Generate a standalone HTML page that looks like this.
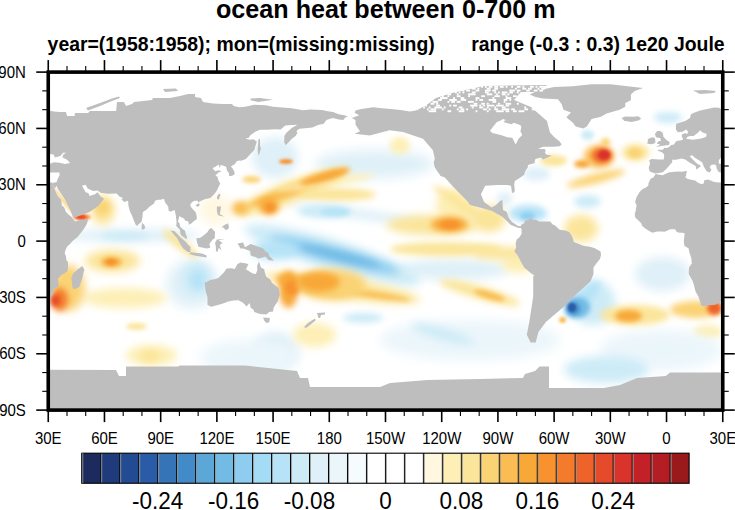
<!DOCTYPE html>
<html><head><meta charset="utf-8"><style>
html,body{margin:0;padding:0;background:#fff;}
svg{display:block;}
text{font-family:"Liberation Sans",sans-serif;fill:#000;}
.tk{font-size:15px;}
.cbl{font-size:22.5px;}
.ttl{font-size:25.15px;font-weight:bold;}
.sub{font-size:19.42px;font-weight:bold;}
</style></head><body>
<svg width="735" height="510" viewBox="0 0 735 510">
<defs>
<clipPath id="pc"><rect x="48.25" y="72.1" width="674.5" height="338.0"/></clipPath>
<filter id="bl" x="-50%" y="-50%" width="200%" height="200%"><feGaussianBlur stdDeviation="4"/></filter>
<filter id="bl2" x="-50%" y="-50%" width="200%" height="200%"><feGaussianBlur stdDeviation="2"/></filter>
</defs>
<rect width="735" height="510" fill="#fff"/>
<g clip-path="url(#pc)">
<filter id="b1" x="-100%" y="-100%" width="300%" height="300%"><feGaussianBlur stdDeviation="1"/></filter><filter id="b1_2" x="-100%" y="-100%" width="300%" height="300%"><feGaussianBlur stdDeviation="1.2"/></filter><filter id="b1_5" x="-100%" y="-100%" width="300%" height="300%"><feGaussianBlur stdDeviation="1.5"/></filter><filter id="b2" x="-100%" y="-100%" width="300%" height="300%"><feGaussianBlur stdDeviation="2"/></filter><filter id="b2_5" x="-100%" y="-100%" width="300%" height="300%"><feGaussianBlur stdDeviation="2.5"/></filter><filter id="b3" x="-100%" y="-100%" width="300%" height="300%"><feGaussianBlur stdDeviation="3"/></filter><filter id="b3_5" x="-100%" y="-100%" width="300%" height="300%"><feGaussianBlur stdDeviation="3.5"/></filter><filter id="b4" x="-100%" y="-100%" width="300%" height="300%"><feGaussianBlur stdDeviation="4"/></filter><filter id="b5" x="-100%" y="-100%" width="300%" height="300%"><feGaussianBlur stdDeviation="5"/></filter><filter id="b6" x="-100%" y="-100%" width="300%" height="300%"><feGaussianBlur stdDeviation="6"/></filter><ellipse cx="132.5" cy="235.5" rx="67.5" ry="6.5" transform="rotate(0.0 132.5 235.5)" fill="#dff0f8" filter="url(#b5)"/><ellipse cx="125.0" cy="236.0" rx="25.0" ry="4.0" transform="rotate(0.0 125.0 236.0)" fill="#cdebf7" filter="url(#b3)"/><ellipse cx="192.5" cy="284.0" rx="25.5" ry="24.0" transform="rotate(0.0 192.5 284.0)" fill="#dff0f8" filter="url(#b6)"/><ellipse cx="275.0" cy="157.5" rx="23.0" ry="20.5" transform="rotate(0.0 275.0 157.5)" fill="#dff0f8" filter="url(#b5)"/><ellipse cx="374.5" cy="164.0" rx="59.5" ry="14.0" transform="rotate(0.0 374.5 164.0)" fill="#dff0f8" filter="url(#b6)"/><ellipse cx="453.0" cy="269.5" rx="56.0" ry="10.5" transform="rotate(0.0 453.0 269.5)" fill="#dff0f8" filter="url(#b5)"/><ellipse cx="275.0" cy="350.5" rx="23.0" ry="18.5" transform="rotate(0.0 275.0 350.5)" fill="#dff0f8" filter="url(#b5)"/><ellipse cx="662.5" cy="274.0" rx="27.5" ry="17.0" transform="rotate(0.0 662.5 274.0)" fill="#dff0f8" filter="url(#b5)"/><ellipse cx="536.5" cy="174.0" rx="13.5" ry="7.0" transform="rotate(0.0 536.5 174.0)" fill="#dff0f8" filter="url(#b3)"/><ellipse cx="124.5" cy="298.0" rx="42.5" ry="10.0" transform="rotate(0.0 124.5 298.0)" fill="#fdefb5" filter="url(#b4)"/><ellipse cx="216.0" cy="210.0" rx="16.0" ry="15.0" transform="rotate(0.0 216.0 210.0)" fill="#fff7e0" filter="url(#b5)"/><ellipse cx="400.0" cy="145.5" rx="10.0" ry="8.5" transform="rotate(0.0 400.0 145.5)" fill="#fdefb5" filter="url(#b3)"/><ellipse cx="457.0" cy="205.0" rx="21.0" ry="17.0" transform="rotate(0.0 457.0 205.0)" fill="#fdefb5" filter="url(#b4)"/><ellipse cx="519.0" cy="264.5" rx="17.0" ry="8.5" transform="rotate(0.0 519.0 264.5)" fill="#fdefb5" filter="url(#b4)"/><ellipse cx="314.5" cy="335.0" rx="21.5" ry="12.0" transform="rotate(0.0 314.5 335.0)" fill="#fdefb5" filter="url(#b4)"/><ellipse cx="707.5" cy="332.0" rx="14.5" ry="7.0" transform="rotate(0.0 707.5 332.0)" fill="#fdefb5" filter="url(#b3)"/><ellipse cx="506.0" cy="253.5" rx="34.0" ry="6.5" transform="rotate(0.0 506.0 253.5)" fill="#fbe59a" filter="url(#b4)"/><ellipse cx="250.0" cy="357.5" rx="50.0" ry="17.5" transform="rotate(0.0 250.0 357.5)" fill="#ebf6fb" filter="url(#b6)"/><ellipse cx="470.0" cy="340.0" rx="90.0" ry="20.0" transform="rotate(0.0 470.0 340.0)" fill="#ebf6fb" filter="url(#b6)"/><ellipse cx="661.0" cy="350.0" rx="61.0" ry="20.0" transform="rotate(0.0 661.0 350.0)" fill="#ebf6fb" filter="url(#b6)"/><ellipse cx="64.5" cy="202.0" rx="18.9" ry="1.5" transform="rotate(52.5 64.5 202.0)" fill="#fad375" filter="url(#b1)"/><ellipse cx="82.0" cy="217.0" rx="9.0" ry="3.0" transform="rotate(0.0 82.0 217.0)" fill="#f47b2b" filter="url(#b1_5)"/><ellipse cx="81.0" cy="217.0" rx="5.0" ry="2.0" transform="rotate(0.0 81.0 217.0)" fill="#e54b2a" filter="url(#b1)"/><ellipse cx="103.0" cy="210.0" rx="12.0" ry="15.0" transform="rotate(0.0 103.0 210.0)" fill="#fbe59a" filter="url(#b4)"/><ellipse cx="102.5" cy="207.5" rx="7.5" ry="7.5" transform="rotate(0.0 102.5 207.5)" fill="#fad375" filter="url(#b3)"/><ellipse cx="112.5" cy="261.0" rx="27.5" ry="11.0" transform="rotate(0.0 112.5 261.0)" fill="#fbe59a" filter="url(#b4)"/><ellipse cx="111.5" cy="262.0" rx="10.5" ry="5.0" transform="rotate(0.0 111.5 262.0)" fill="#f8a837" filter="url(#b2_5)"/><ellipse cx="111.0" cy="262.0" rx="5.0" ry="3.0" transform="rotate(0.0 111.0 262.0)" fill="#f7922f" filter="url(#b1_5)"/><ellipse cx="68.0" cy="288.0" rx="17.0" ry="23.0" transform="rotate(0.0 68.0 288.0)" fill="#fad375" filter="url(#b4)"/><ellipse cx="59.5" cy="299.5" rx="8.5" ry="11.5" transform="rotate(0.0 59.5 299.5)" fill="#f47b2b" filter="url(#b3)"/><ellipse cx="55.5" cy="300.5" rx="4.5" ry="5.5" transform="rotate(0.0 55.5 300.5)" fill="#e54b2a" filter="url(#b2)"/><ellipse cx="180.5" cy="244.0" rx="22.4" ry="5.0" transform="rotate(38.7 180.5 244.0)" fill="#fbe59a" filter="url(#b3)"/><ellipse cx="197.0" cy="278.5" rx="15.0" ry="16.5" transform="rotate(0.0 197.0 278.5)" fill="#cdebf7" filter="url(#b4)"/><ellipse cx="197.5" cy="280.0" rx="7.5" ry="10.0" transform="rotate(0.0 197.5 280.0)" fill="#b6e3f7" filter="url(#b3)"/><ellipse cx="151.5" cy="355.5" rx="25.5" ry="10.5" transform="rotate(0.0 151.5 355.5)" fill="#fdefb5" filter="url(#b4)"/><ellipse cx="150.0" cy="356.0" rx="10.0" ry="6.0" transform="rotate(0.0 150.0 356.0)" fill="#fbe59a" filter="url(#b3)"/><ellipse cx="136.5" cy="326.5" rx="10.5" ry="3.5" transform="rotate(0.0 136.5 326.5)" fill="#fbe59a" filter="url(#b2)"/><ellipse cx="292.0" cy="191.5" rx="60.0" ry="11.0" transform="rotate(-21.0 292.0 191.5)" fill="#fbe59a" filter="url(#b3_5)"/><ellipse cx="296.5" cy="189.0" rx="51.4" ry="5.5" transform="rotate(-19.3 296.5 189.0)" fill="#f9bd53" filter="url(#b2_5)"/><ellipse cx="325.0" cy="182.5" rx="50.6" ry="4.0" transform="rotate(-8.5 325.0 182.5)" fill="#fdefb5" filter="url(#b3)"/><ellipse cx="269.0" cy="206.5" rx="10.0" ry="8.5" transform="rotate(0.0 269.0 206.5)" fill="#f8a837" filter="url(#b3)"/><ellipse cx="270.0" cy="207.5" rx="5.0" ry="4.5" transform="rotate(0.0 270.0 207.5)" fill="#f7922f" filter="url(#b2)"/><ellipse cx="240.5" cy="208.0" rx="8.5" ry="7.0" transform="rotate(0.0 240.5 208.0)" fill="#f9bd53" filter="url(#b3)"/><ellipse cx="286.0" cy="161.5" rx="7.0" ry="2.5" transform="rotate(0.0 286.0 161.5)" fill="#f7922f" filter="url(#b1_5)"/><ellipse cx="251.5" cy="179.5" rx="9.5" ry="3.5" transform="rotate(0.0 251.5 179.5)" fill="#fad375" filter="url(#b2)"/><ellipse cx="332.5" cy="255.0" rx="91.6" ry="15.0" transform="rotate(17.1 332.5 255.0)" fill="#cdebf7" filter="url(#b5)"/><ellipse cx="335.0" cy="255.0" rx="67.2" ry="8.0" transform="rotate(14.7 335.0 255.0)" fill="#8ecdf0" filter="url(#b4)"/><ellipse cx="365.0" cy="215.0" rx="75.7" ry="5.0" transform="rotate(7.6 365.0 215.0)" fill="#dff0f8" filter="url(#b4)"/><ellipse cx="340.0" cy="256.0" rx="41.2" ry="4.0" transform="rotate(14.0 340.0 256.0)" fill="#72bbe5" filter="url(#b3)"/><ellipse cx="275.0" cy="250.0" rx="23.0" ry="10.0" transform="rotate(0.0 275.0 250.0)" fill="#b6e3f7" filter="url(#b4)"/><ellipse cx="342.5" cy="288.0" rx="78.4" ry="10.0" transform="rotate(8.8 342.5 288.0)" fill="#fbe59a" filter="url(#b4)"/><ellipse cx="310.5" cy="285.0" rx="35.2" ry="7.0" transform="rotate(11.5 310.5 285.0)" fill="#f8a837" filter="url(#b3)"/><ellipse cx="375.0" cy="295.0" rx="35.4" ry="3.0" transform="rotate(8.1 375.0 295.0)" fill="#f9bd53" filter="url(#b2_5)"/><ellipse cx="288.5" cy="289.5" rx="9.5" ry="18.5" transform="rotate(0.0 288.5 289.5)" fill="#f8a837" filter="url(#b3)"/><ellipse cx="292.5" cy="287.5" rx="7.5" ry="7.5" transform="rotate(0.0 292.5 287.5)" fill="#f7922f" filter="url(#b2)"/><ellipse cx="325.0" cy="176.5" rx="26.1" ry="4.5" transform="rotate(-16.7 325.0 176.5)" fill="#f8a837" filter="url(#b2_5)"/><ellipse cx="337.0" cy="194.5" rx="39.0" ry="6.5" transform="rotate(0.0 337.0 194.5)" fill="#fbe59a" filter="url(#b3)"/><ellipse cx="464.0" cy="206.5" rx="37.2" ry="4.5" transform="rotate(33.5 464.0 206.5)" fill="#fbe59a" filter="url(#b3)"/><ellipse cx="504.5" cy="199.0" rx="7.5" ry="7.0" transform="rotate(0.0 504.5 199.0)" fill="#dff0f8" filter="url(#b3)"/><ellipse cx="433.0" cy="225.0" rx="47.0" ry="10.0" transform="rotate(0.0 433.0 225.0)" fill="#fbe59a" filter="url(#b4)"/><ellipse cx="449.5" cy="224.5" rx="18.5" ry="7.5" transform="rotate(0.0 449.5 224.5)" fill="#f8a837" filter="url(#b3)"/><ellipse cx="450.0" cy="224.5" rx="10.0" ry="4.5" transform="rotate(0.0 450.0 224.5)" fill="#f7922f" filter="url(#b2)"/><ellipse cx="325.0" cy="211.5" rx="27.0" ry="6.5" transform="rotate(0.0 325.0 211.5)" fill="#cdebf7" filter="url(#b3)"/><ellipse cx="335.0" cy="212.0" rx="15.0" ry="4.0" transform="rotate(0.0 335.0 212.0)" fill="#b6e3f7" filter="url(#b2)"/><ellipse cx="446.0" cy="249.0" rx="56.0" ry="7.0" transform="rotate(0.0 446.0 249.0)" fill="#fbe59a" filter="url(#b3)"/><ellipse cx="332.0" cy="284.5" rx="34.0" ry="15.5" transform="rotate(0.0 332.0 284.5)" fill="#fad375" filter="url(#b4)"/><ellipse cx="319.0" cy="282.0" rx="21.0" ry="10.0" transform="rotate(0.0 319.0 282.0)" fill="#f8a837" filter="url(#b3)"/><ellipse cx="479.5" cy="292.5" rx="42.1" ry="6.5" transform="rotate(15.9 479.5 292.5)" fill="#fbe59a" filter="url(#b3_5)"/><ellipse cx="489.5" cy="295.5" rx="16.1" ry="3.5" transform="rotate(16.2 489.5 295.5)" fill="#f9bd53" filter="url(#b2)"/><ellipse cx="363.0" cy="318.0" rx="20.0" ry="5.0" transform="rotate(0.0 363.0 318.0)" fill="#cdebf7" filter="url(#b3)"/><ellipse cx="442.5" cy="334.0" rx="32.8" ry="6.0" transform="rotate(15.9 442.5 334.0)" fill="#cdebf7" filter="url(#b4)"/><ellipse cx="489.0" cy="218.5" rx="17.0" ry="13.5" transform="rotate(0.0 489.0 218.5)" fill="#fbe59a" filter="url(#b4)"/><ellipse cx="599.0" cy="156.5" rx="15.0" ry="11.5" transform="rotate(0.0 599.0 156.5)" fill="#f9bd53" filter="url(#b3)"/><ellipse cx="582.0" cy="164.0" rx="8.0" ry="4.0" transform="rotate(0.0 582.0 164.0)" fill="#f8a837" filter="url(#b2)"/><ellipse cx="605.5" cy="142.5" rx="4.5" ry="4.5" transform="rotate(0.0 605.5 142.5)" fill="#fad375" filter="url(#b2)"/><ellipse cx="602.0" cy="155.5" rx="10.0" ry="7.5" transform="rotate(0.0 602.0 155.5)" fill="#ee6329" filter="url(#b2_5)"/><ellipse cx="604.0" cy="155.0" rx="6.0" ry="5.0" transform="rotate(0.0 604.0 155.0)" fill="#da332b" filter="url(#b1_5)"/><ellipse cx="635.5" cy="152.5" rx="13.5" ry="8.5" transform="rotate(0.0 635.5 152.5)" fill="#fbe59a" filter="url(#b3)"/><ellipse cx="635.0" cy="153.0" rx="7.0" ry="5.0" transform="rotate(0.0 635.0 153.0)" fill="#fad375" filter="url(#b2)"/><ellipse cx="596.0" cy="178.5" rx="30.0" ry="5.0" transform="rotate(-14.5 596.0 178.5)" fill="#fad375" filter="url(#b3)"/><ellipse cx="553.5" cy="160.5" rx="13.5" ry="5.5" transform="rotate(0.0 553.5 160.5)" fill="#fbe59a" filter="url(#b2_5)"/><ellipse cx="528.0" cy="213.5" rx="19.0" ry="8.5" transform="rotate(0.0 528.0 213.5)" fill="#b6e3f7" filter="url(#b3)"/><ellipse cx="527.5" cy="216.0" rx="7.5" ry="4.0" transform="rotate(0.0 527.5 216.0)" fill="#8ecdf0" filter="url(#b2)"/><ellipse cx="581.0" cy="228.5" rx="17.0" ry="13.5" transform="rotate(0.0 581.0 228.5)" fill="#fbe59a" filter="url(#b4)"/><ellipse cx="587.5" cy="201.5" rx="13.5" ry="6.5" transform="rotate(0.0 587.5 201.5)" fill="#cdebf7" filter="url(#b3)"/><ellipse cx="587.5" cy="135.0" rx="6.5" ry="5.0" transform="rotate(0.0 587.5 135.0)" fill="#cdebf7" filter="url(#b2)"/><ellipse cx="668.0" cy="117.5" rx="14.0" ry="5.5" transform="rotate(0.0 668.0 117.5)" fill="#cdebf7" filter="url(#b3)"/><ellipse cx="592.5" cy="302.5" rx="22.5" ry="22.5" transform="rotate(0.0 592.5 302.5)" fill="#cdebf7" filter="url(#b5)"/><ellipse cx="583.0" cy="299.0" rx="24.0" ry="7.0" transform="rotate(-45.0 583.0 299.0)" fill="#b6e3f7" filter="url(#b3)"/><ellipse cx="577.5" cy="307.5" rx="12.5" ry="10.5" transform="rotate(0.0 577.5 307.5)" fill="#72bbe5" filter="url(#b2_5)"/><ellipse cx="573.5" cy="308.5" rx="6.5" ry="6.5" transform="rotate(0.0 573.5 308.5)" fill="#438ac8" filter="url(#b2)"/><ellipse cx="572.0" cy="307.5" rx="4.0" ry="4.5" transform="rotate(0.0 572.0 307.5)" fill="#2a5ba9" filter="url(#b1_2)"/><ellipse cx="562.5" cy="320.0" rx="3.5" ry="3.0" transform="rotate(0.0 562.5 320.0)" fill="#f9bd53" filter="url(#b1_5)"/><ellipse cx="635.0" cy="315.0" rx="35.0" ry="10.0" transform="rotate(0.0 635.0 315.0)" fill="#fbe59a" filter="url(#b3)"/><ellipse cx="628.5" cy="316.0" rx="13.5" ry="6.0" transform="rotate(0.0 628.5 316.0)" fill="#f8a837" filter="url(#b2_5)"/><ellipse cx="696.0" cy="309.5" rx="26.0" ry="8.5" transform="rotate(0.0 696.0 309.5)" fill="#fad375" filter="url(#b3)"/><ellipse cx="714.5" cy="308.0" rx="7.5" ry="7.0" transform="rotate(0.0 714.5 308.0)" fill="#ee6329" filter="url(#b2)"/><ellipse cx="606.5" cy="369.5" rx="42.5" ry="13.5" transform="rotate(0.0 606.5 369.5)" fill="#cdebf7" filter="url(#b5)"/>
<g fill="#bebebe">
<path d="M-19.0,173.9 -11.7,175.2 -6.1,172.6 -2.3,172.0 3.3,171.6 8.2,171.8 10.8,171.1 12.7,171.6 11.7,173.5 11.7,175.4 10.8,177.3 12.7,178.8 15.5,179.5 20.5,180.4 23.9,182.9 27.6,184.2 29.5,182.9 29.5,180.6 33.3,179.5 36.1,180.6 38.9,181.8 43.6,182.5 47.9,182.5 52.6,182.5 53.1,185.0 54.8,189.5 57.6,196.0 61.2,199.8 61.9,205.4 64.2,207.3 66.0,212.0 68.9,214.8 71.7,217.3 73.2,219.3 75.4,221.6 80.1,220.1 83.8,219.9 88.0,218.9 87.6,221.6 86.7,224.2 83.8,228.9 81.0,232.7 77.3,237.3 72.6,241.1 69.8,244.3 67.0,246.7 65.5,249.9 64.7,253.3 65.9,256.1 66.4,260.3 67.9,261.8 68.1,268.3 67.0,272.1 61.4,274.9 58.0,278.7 58.6,283.4 58.6,286.2 53.9,289.0 53.5,290.5 53.1,294.6 51.1,296.1 48.2,299.9 44.5,303.1 40.0,304.9 34.2,304.9 29.5,306.4 26.5,305.3 25.8,302.1 23.9,296.5 21.1,291.8 19.2,284.3 17.9,280.5 14.2,274.0 14.5,267.4 17.3,263.6 16.8,258.0 14.9,252.4 14.2,248.6 9.8,245.8 9.3,241.1 9.8,236.4 10.2,233.6 8.0,232.7 5.2,232.8 2.3,232.1 0.5,229.3 -4.2,229.3 -9.8,231.7 -13.6,231.5 -17.3,231.5 -22.0,232.8 -25.8,230.8 -29.5,228.3 -32.3,226.1 -33.3,223.3 -36.1,220.4 -39.2,217.6 -39.8,213.9 -38.9,211.1 -37.9,205.4 -39.4,201.7 -37.9,197.0 -35.1,192.3 -32.3,189.3 -28.6,187.4 -26.3,185.7 -25.9,182.9 -23.9,178.8 -21.1,177.6 -19.2,174.4Z"/><path d="M655.5,173.9 662.8,175.2 668.4,172.6 672.2,172.0 677.8,171.6 682.7,171.8 685.3,171.1 687.2,171.6 686.2,173.5 686.2,175.4 685.3,177.3 687.2,178.8 690.0,179.5 695.0,180.4 698.4,182.9 702.1,184.2 704.0,182.9 704.0,180.6 707.8,179.5 710.6,180.6 713.4,181.8 718.1,182.5 722.4,182.5 727.1,182.5 727.6,185.0 729.3,189.5 732.1,196.0 735.7,199.8 736.4,205.4 738.7,207.3 740.5,212.0 743.4,214.8 746.2,217.3 747.7,219.3 749.9,221.6 754.6,220.1 758.3,219.9 762.5,218.9 762.1,221.6 761.2,224.2 758.3,228.9 755.5,232.7 751.8,237.3 747.1,241.1 744.3,244.3 741.5,246.7 740.0,249.9 739.2,253.3 740.4,256.1 740.9,260.3 742.4,261.8 742.6,268.3 741.5,272.1 735.9,274.9 732.5,278.7 733.1,283.4 733.1,286.2 728.4,289.0 728.0,290.5 727.6,294.6 725.6,296.1 722.8,299.9 719.0,303.1 714.5,304.9 708.7,304.9 704.0,306.4 701.0,305.3 700.3,302.1 698.4,296.5 695.6,291.8 693.7,284.3 692.4,280.5 688.7,274.0 689.0,267.4 691.8,263.6 691.3,258.0 689.4,252.4 688.7,248.6 684.3,245.8 683.8,241.1 684.3,236.4 684.7,233.6 682.5,232.7 679.7,232.8 676.8,232.1 675.0,229.3 670.3,229.3 664.7,231.7 660.9,231.5 657.2,231.5 652.5,232.8 648.7,230.8 645.0,228.3 642.2,226.1 641.2,223.3 638.4,220.4 635.3,217.6 634.7,213.9 635.6,211.1 636.6,205.4 635.1,201.7 636.6,197.0 639.4,192.3 642.2,189.3 645.9,187.4 648.2,185.7 648.6,182.9 650.6,178.8 653.4,177.6 655.3,174.4Z"/><path d="M82.3,266.0 84.3,269.5 82.0,279.0 79.2,287.0 75.0,289.0 72.6,288.2 71.3,278.0 73.5,273.0 77.6,269.5Z"/><path d="M756.8,266.0 758.8,269.5 756.5,279.0 753.7,287.0 749.5,289.0 747.1,288.2 745.8,278.0 748.0,273.0 752.1,269.5Z"/><path d="M-24.8,171.6 -25.8,167.9 -24.4,163.2 -25.4,160.4 -22.9,159.0 -15.5,159.4 -10.8,159.6 -10.2,154.7 -12.1,152.5 -16.8,150.6 -16.4,149.7 -11.5,149.7 -10.4,147.8 -7.6,148.1 -5.1,146.8 -3.3,145.1 -0.5,144.4 1.0,142.0 2.3,141.0 5.2,140.6 8.2,139.9 8.5,138.8 7.4,136.9 7.4,134.4 10.8,132.9 11.7,134.1 13.6,133.1 13.2,131.2 11.7,129.4 8.0,131.8 3.3,132.2 1.4,129.4 1.4,126.6 1.8,123.7 5.2,122.8 10.8,120.9 15.5,118.1 16.4,114.3 20.1,112.5 25.8,110.6 31.4,109.3 39.8,107.6 44.5,107.8 49.2,110.6 53.9,111.5 59.5,111.9 66.0,112.1 67.0,116.0 73.9,116.0 74.5,116.0 75.0,113.0 88.0,113.0 90.0,111.0 116.1,111.0 117.0,102.0 123.9,102.0 126.0,105.9 132.0,104.0 134.1,102.0 152.0,100.1 153.0,98.0 170.0,98.0 180.0,95.9 188.0,94.1 195.0,94.1 195.0,97.1 200.9,98.0 203.0,102.0 213.1,103.5 222.5,104.0 231.9,104.0 233.7,105.9 239.4,107.2 245.0,106.7 254.3,104.8 265.6,105.3 273.1,106.7 282.5,107.6 291.8,108.3 303.1,110.2 310.6,109.5 321.8,110.0 329.3,111.5 333.0,112.1 338.7,114.2 344.3,115.3 348.0,116.6 345.2,117.5 343.3,120.0 338.7,119.6 333.0,118.1 329.3,119.0 326.5,120.0 323.7,123.7 318.1,125.1 312.4,127.5 304.9,128.2 299.3,128.8 296.5,131.1 297.4,133.1 295.6,135.9 291.8,138.8 289.0,141.8 285.6,145.3 284.3,142.5 284.3,135.9 286.2,133.1 291.8,128.1 297.4,124.7 291.8,125.1 285.3,125.6 280.6,129.4 274.6,129.2 267.5,129.7 260.0,129.7 255.3,131.8 250.6,135.0 248.7,137.8 245.4,138.4 249.7,139.7 253.4,139.3 256.8,141.6 255.3,146.3 254.3,150.0 250.6,153.8 245.9,158.9 241.2,160.7 239.0,160.4 236.7,161.3 235.0,164.1 230.9,166.4 232.8,168.8 234.7,172.6 234.3,174.8 231.9,175.8 229.1,176.3 229.1,173.5 226.8,170.3 226.2,166.9 224.4,166.0 220.6,165.1 219.7,167.9 218.7,164.5 215.0,166.9 212.6,167.9 213.1,168.8 215.0,171.2 218.7,170.3 221.6,171.2 218.4,172.6 215.4,175.4 217.4,176.7 218.7,181.0 220.2,183.5 216.9,190.4 215.0,193.2 210.3,197.9 204.7,199.2 199.1,201.7 198.5,203.0 197.6,200.7 194.4,200.7 192.0,202.2 190.3,204.5 190.6,206.4 193.5,210.1 195.9,212.6 196.8,216.7 196.6,219.5 194.0,221.0 191.6,223.3 188.8,224.8 188.4,221.4 185.0,220.4 184.1,218.6 181.3,217.3 179.4,216.1 177.9,221.4 179.4,223.3 180.3,227.0 183.2,229.5 185.0,230.8 185.6,233.6 187.3,238.3 186.0,238.7 181.8,235.8 180.3,233.6 180.0,229.8 176.2,226.1 176.6,222.3 175.7,214.8 174.7,210.1 171.0,211.4 168.7,211.1 168.2,206.4 165.0,202.2 164.0,198.8 160.7,199.8 157.9,199.8 155.0,200.7 154.1,203.5 149.4,206.7 146.2,209.9 142.9,212.0 142.5,216.7 141.6,221.8 138.6,224.2 137.2,226.1 135.4,224.2 133.5,219.5 131.6,214.8 129.8,211.1 128.4,205.4 128.1,200.7 124.1,202.0 121.3,199.2 123.2,198.3 119.4,196.6 116.6,193.4 107.3,193.8 100.7,192.8 97.5,190.4 93.2,191.0 87.6,188.5 85.7,184.8 82.0,185.7 85.7,192.3 88.5,193.2 89.5,196.0 95.1,194.2 97.5,192.3 100.7,196.6 104.1,198.8 98.8,205.4 95.1,208.2 89.5,212.0 82.0,214.8 76.4,217.1 73.2,217.3 70.7,211.1 65.1,199.8 57.6,188.5 56.7,185.7 54.8,188.5 52.9,184.8 52.9,182.9 56.7,181.9 57.6,179.1 59.5,175.4 59.5,172.6 49.2,172.6 44.5,172.2 42.6,169.7 41.7,166.0 40.8,164.5 37.0,164.7 35.1,166.9 37.0,169.7 35.1,172.6 32.3,171.6 29.5,166.9 27.6,162.2 20.1,157.5 17.7,155.3 15.1,156.0 17.3,158.5 22.0,163.2 26.7,166.0 23.9,167.9 22.0,169.7 21.1,166.0 14.5,162.2 10.8,159.4 7.0,158.5 1.4,159.8 -2.3,159.8 -2.3,162.2 -8.0,168.8 -11.7,172.2 -19.2,173.5Z"/><path d="M649.7,171.6 648.7,167.9 650.1,163.2 649.1,160.4 651.6,159.0 659.0,159.4 663.7,159.6 664.3,154.7 662.4,152.5 657.7,150.6 658.1,149.7 663.0,149.7 664.1,147.8 666.9,148.1 669.4,146.8 671.2,145.1 674.0,144.4 675.5,142.0 676.8,141.0 679.7,140.6 682.7,139.9 683.0,138.8 681.9,136.9 681.9,134.4 685.3,132.9 686.2,134.1 688.1,133.1 687.7,131.2 686.2,129.4 682.5,131.8 677.8,132.2 675.9,129.4 675.9,126.6 676.3,123.7 679.7,122.8 685.3,120.9 690.0,118.1 690.9,114.3 694.6,112.5 700.3,110.6 705.9,109.3 714.3,107.6 719.0,107.8 723.7,110.6 728.4,111.5 734.0,111.9 740.5,112.1 741.5,116.0 748.4,116.0 749.0,116.0 749.5,113.0 762.5,113.0 764.5,111.0 790.6,111.0 791.5,102.0 798.4,102.0 800.5,105.9 806.5,104.0 808.6,102.0 826.5,100.1 827.5,98.0 844.5,98.0 854.5,95.9 862.5,94.1 869.5,94.1 869.5,97.1 875.4,98.0 877.5,102.0 887.6,103.5 897.0,104.0 906.4,104.0 908.2,105.9 913.9,107.2 919.5,106.7 928.8,104.8 940.1,105.3 947.6,106.7 957.0,107.6 966.3,108.3 977.6,110.2 985.1,109.5 996.3,110.0 1003.8,111.5 1007.5,112.1 1013.2,114.2 1018.8,115.3 1022.5,116.6 1019.7,117.5 1017.8,120.0 1013.2,119.6 1007.5,118.1 1003.8,119.0 1001.0,120.0 998.2,123.7 992.5,125.1 986.9,127.5 979.4,128.2 973.8,128.8 971.0,131.1 971.9,133.1 970.1,135.9 966.3,138.8 963.5,141.8 960.1,145.3 958.8,142.5 958.8,135.9 960.7,133.1 966.3,128.1 971.9,124.7 966.3,125.1 959.8,125.6 955.1,129.4 949.1,129.2 942.0,129.7 934.5,129.7 929.8,131.8 925.1,135.0 923.2,137.8 919.9,138.4 924.2,139.7 927.9,139.3 931.3,141.6 929.8,146.3 928.8,150.0 925.1,153.8 920.4,158.9 915.7,160.7 913.5,160.4 911.2,161.3 909.5,164.1 905.4,166.4 907.3,168.8 909.2,172.6 908.8,174.8 906.4,175.8 903.6,176.3 903.6,173.5 901.3,170.3 900.7,166.9 898.9,166.0 895.1,165.1 894.2,167.9 893.2,164.5 889.5,166.9 887.1,167.9 887.6,168.8 889.5,171.2 893.2,170.3 896.1,171.2 892.9,172.6 889.9,175.4 891.9,176.7 893.2,181.0 894.7,183.5 891.4,190.4 889.5,193.2 884.8,197.9 879.2,199.2 873.6,201.7 873.0,203.0 872.1,200.7 868.9,200.7 866.5,202.2 864.8,204.5 865.1,206.4 868.0,210.1 870.4,212.6 871.3,216.7 871.1,219.5 868.5,221.0 866.1,223.3 863.3,224.8 862.9,221.4 859.5,220.4 858.6,218.6 855.8,217.3 853.9,216.1 852.4,221.4 853.9,223.3 854.8,227.0 857.6,229.5 859.5,230.8 860.1,233.6 861.8,238.3 860.5,238.7 856.3,235.8 854.8,233.6 854.5,229.8 850.7,226.1 851.1,222.3 850.2,214.8 849.2,210.1 845.5,211.4 843.2,211.1 842.7,206.4 839.5,202.2 838.5,198.8 835.2,199.8 832.4,199.8 829.5,200.7 828.6,203.5 823.9,206.7 820.7,209.9 817.4,212.0 817.0,216.7 816.1,221.8 813.1,224.2 811.7,226.1 809.9,224.2 808.0,219.5 806.1,214.8 804.3,211.1 802.9,205.4 802.6,200.7 798.6,202.0 795.8,199.2 797.7,198.3 793.9,196.6 791.1,193.4 781.8,193.8 775.2,192.8 772.0,190.4 767.7,191.0 762.1,188.5 760.2,184.8 756.5,185.7 760.2,192.3 763.0,193.2 764.0,196.0 769.6,194.2 772.0,192.3 775.2,196.6 778.6,198.8 773.3,205.4 769.6,208.2 764.0,212.0 756.5,214.8 750.9,217.1 747.7,217.3 745.2,211.1 739.6,199.8 732.1,188.5 731.2,185.7 729.3,188.5 727.4,184.8 727.4,182.9 731.2,181.9 732.1,179.1 734.0,175.4 734.0,172.6 723.7,172.6 719.0,172.2 717.1,169.7 716.2,166.0 715.3,164.5 711.5,164.7 709.6,166.9 711.5,169.7 709.6,172.6 706.8,171.6 704.0,166.9 702.1,162.2 694.6,157.5 692.2,155.3 689.6,156.0 691.8,158.5 696.5,163.2 701.2,166.0 698.4,167.9 696.5,169.7 695.6,166.0 689.0,162.2 685.3,159.4 681.5,158.5 675.9,159.8 672.2,159.8 672.2,162.2 666.5,168.8 662.8,172.2 655.3,173.5Z"/><path d="M-18.6,147.2 -13.6,146.1 -5.5,145.0 -4.8,142.1 -7.4,140.6 -11.0,136.9 -11.7,132.9 -14.1,131.1 -17.3,131.1 -19.6,134.1 -18.5,137.3 -14.0,138.2 -13.6,140.8 -16.4,141.6 -17.7,143.8 -14.1,144.6Z"/><path d="M655.9,147.2 660.9,146.1 669.0,145.0 669.7,142.1 667.1,140.6 663.5,136.9 662.8,132.9 660.4,131.1 657.2,131.1 654.9,134.1 656.0,137.3 660.5,138.2 660.9,140.8 658.1,141.6 656.8,143.8 660.4,144.6Z"/><path d="M-19.2,143.1 -19.2,139.7 -20.1,137.4 -23.3,137.4 -26.7,139.3 -26.7,141.6 -27.3,143.8 -22.9,144.2Z"/><path d="M655.3,143.1 655.3,139.7 654.4,137.4 651.2,137.4 647.8,139.3 647.8,141.6 647.2,143.8 651.6,144.2Z"/><path d="M-50.1,120.9 -52.9,118.1 -49.2,116.4 -41.7,116.8 -36.1,116.2 -33.3,118.7 -36.1,120.4 -43.0,122.0 -47.3,121.3Z"/><path d="M624.4,120.9 621.6,118.1 625.3,116.4 632.8,116.8 638.4,116.2 641.2,118.7 638.4,120.4 631.5,122.0 627.2,121.3Z"/><path d="M18.5,90.5 30.5,90.0 41.5,91.0 39.5,93.0 25.5,94.0Z"/><path d="M693.0,90.5 705.0,90.0 716.0,91.0 714.0,93.0 700.0,94.0Z"/><path d="M86.0,108.0 100.0,103.0 112.0,98.5 119.0,96.5 120.0,98.0 112.0,101.0 100.0,106.0 88.0,110.5Z"/><path d="M760.5,108.0 774.5,103.0 786.5,98.5 793.5,96.5 794.5,98.0 786.5,101.0 774.5,106.0 762.5,110.5Z"/><path d="M163.0,89.0 176.0,88.5 178.0,91.0 165.0,92.0Z"/><path d="M837.5,89.0 850.5,88.5 852.5,91.0 839.5,92.0Z"/><path d="M250.6,100.3 258.1,102.1 273.1,99.7 260.0,98.0 250.6,98.4Z"/><path d="M925.1,100.3 932.6,102.1 947.6,99.7 934.5,98.0 925.1,98.4Z"/><path d="M141.6,228.9 141.9,222.7 144.4,225.1 145.3,228.0 142.9,229.8Z"/><path d="M816.1,228.9 816.4,222.7 818.9,225.1 819.8,228.0 817.4,229.8Z"/><path d="M195.5,205.4 198.1,203.5 200.0,204.1 198.1,206.9Z"/><path d="M870.0,205.4 872.6,203.5 874.5,204.1 872.6,206.9Z"/><path d="M217.2,198.8 216.9,197.0 218.7,193.8 220.6,194.2 218.7,199.8Z"/><path d="M891.7,198.8 891.4,197.0 893.2,193.8 895.1,194.2 893.2,199.8Z"/><path d="M258.1,154.7 257.7,149.1 258.5,139.3 260.0,139.1 260.0,145.3 260.9,149.1 259.0,154.7Z"/><path d="M932.6,154.7 932.2,149.1 933.0,139.3 934.5,139.1 934.5,145.3 935.4,149.1 933.5,154.7Z"/><path d="M216.9,206.4 221.0,206.4 220.6,210.1 219.7,213.9 224.4,216.7 218.0,215.2 216.9,211.1Z"/><path d="M891.4,206.4 895.5,206.4 895.1,210.1 894.2,213.9 898.9,216.7 892.5,215.2 891.4,211.1Z"/><path d="M220.6,228.0 224.4,225.1 228.1,223.3 229.1,228.0 226.2,230.2 222.5,227.0Z"/><path d="M895.1,228.0 898.9,225.1 902.6,223.3 903.6,228.0 900.7,230.2 897.0,227.0Z"/><path d="M196.3,238.3 197.2,243.0 198.5,246.7 206.6,248.6 210.3,247.7 209.4,243.9 212.6,239.6 214.8,238.3 215.0,231.7 211.3,228.0 209.4,228.9 207.5,232.1 204.7,234.5 200.0,237.9Z"/><path d="M870.8,238.3 871.7,243.0 873.0,246.7 881.1,248.6 884.8,247.7 883.9,243.9 887.1,239.6 889.3,238.3 889.5,231.7 885.8,228.0 883.9,228.9 882.0,232.1 879.2,234.5 874.5,237.9Z"/><path d="M170.6,230.6 174.7,231.3 180.3,237.3 186.0,242.0 187.8,244.5 190.6,247.1 190.3,252.0 187.8,252.0 183.2,248.6 180.3,243.9 177.2,238.3 173.8,234.5Z"/><path d="M845.1,230.6 849.2,231.3 854.8,237.3 860.5,242.0 862.3,244.5 865.1,247.1 864.8,252.0 862.3,252.0 857.6,248.6 854.8,243.9 851.7,238.3 848.3,234.5Z"/><path d="M189.1,253.9 190.6,252.2 195.0,252.7 200.0,253.3 203.2,254.1 206.6,255.6 206.6,257.4 200.0,256.5 194.4,255.6 190.3,254.2Z"/><path d="M863.6,253.9 865.1,252.2 869.5,252.7 874.5,253.3 877.7,254.1 881.1,255.6 881.1,257.4 874.5,256.5 868.9,255.6 864.8,254.2Z"/><path d="M215.9,251.4 215.9,246.7 215.0,243.0 216.9,239.6 225.3,238.7 218.7,240.2 222.5,243.0 219.7,244.9 221.6,250.5 218.7,247.7 217.8,251.4Z"/><path d="M890.4,251.4 890.4,246.7 889.5,243.0 891.4,239.6 899.8,238.7 893.2,240.2 897.0,243.0 894.2,244.9 896.1,250.5 893.2,247.7 892.3,251.4Z"/><path d="M237.5,243.5 243.1,242.6 245.0,247.3 250.6,244.1 256.2,246.0 262.8,248.2 265.6,251.4 268.4,252.9 269.3,256.1 274.0,260.8 268.4,259.9 265.6,256.5 260.9,258.0 258.1,258.4 255.8,257.1 252.5,256.3 250.6,255.2 250.2,251.1 243.1,248.4 240.3,248.6 239.4,246.4Z"/><path d="M912.0,243.5 917.6,242.6 919.5,247.3 925.1,244.1 930.7,246.0 937.3,248.2 940.1,251.4 942.9,252.9 943.8,256.1 948.5,260.8 942.9,259.9 940.1,256.5 935.4,258.0 932.6,258.4 930.3,257.1 927.0,256.3 925.1,255.2 924.7,251.1 917.6,248.4 914.8,248.6 913.9,246.4Z"/><path d="M204.7,282.4 205.6,290.9 207.5,297.4 207.5,304.9 211.3,306.8 214.1,305.9 219.7,304.6 224.4,303.1 228.1,301.6 233.7,300.4 238.4,300.2 243.1,302.7 246.5,306.4 249.7,303.1 250.6,307.8 253.4,309.6 254.3,312.1 260.0,314.0 266.2,314.5 269.3,312.1 273.1,311.5 273.6,307.8 275.9,304.0 277.8,301.2 279.8,294.6 278.7,288.0 275.0,285.2 272.1,283.0 270.3,279.6 266.2,276.8 264.7,272.1 264.3,269.3 260.9,267.4 259.0,261.4 257.2,265.5 257.3,270.2 255.8,274.0 252.8,273.6 248.7,271.0 245.9,269.3 248.4,264.2 246.5,263.6 240.5,262.5 237.5,264.0 234.7,268.9 231.5,268.3 226.6,268.5 223.4,273.0 221.0,275.3 218.7,277.7 214.6,279.2 210.7,279.8 206.6,282.0Z"/><path d="M879.2,282.4 880.1,290.9 882.0,297.4 882.0,304.9 885.8,306.8 888.6,305.9 894.2,304.6 898.9,303.1 902.6,301.6 908.2,300.4 912.9,300.2 917.6,302.7 921.0,306.4 924.2,303.1 925.1,307.8 927.9,309.6 928.8,312.1 934.5,314.0 940.7,314.5 943.8,312.1 947.6,311.5 948.1,307.8 950.4,304.0 952.3,301.2 954.3,294.6 953.2,288.0 949.5,285.2 946.6,283.0 944.8,279.6 940.7,276.8 939.2,272.1 938.8,269.3 935.4,267.4 933.5,261.4 931.7,265.5 931.8,270.2 930.3,274.0 927.3,273.6 923.2,271.0 920.4,269.3 922.9,264.2 921.0,263.6 915.0,262.5 912.0,264.0 909.2,268.9 906.0,268.3 901.1,268.5 897.9,273.0 895.5,275.3 893.2,277.7 889.1,279.2 885.2,279.8 881.1,282.0Z"/><path d="M263.0,317.5 269.9,317.9 269.3,322.2 266.5,323.0 264.1,320.3Z"/><path d="M937.5,317.5 944.4,317.9 943.8,322.2 941.0,323.0 938.6,320.3Z"/><path d="M317.0,313.0 325.0,312.5 325.0,314.5 321.0,315.0 320.0,318.0 318.5,318.0Z"/><path d="M991.5,313.0 999.5,312.5 999.5,314.5 995.5,315.0 994.5,318.0 993.0,318.0Z"/><path d="M314.5,318.8 316.0,320.0 310.0,325.0 306.0,328.0 304.0,327.0 308.0,323.0Z"/><path d="M989.0,318.8 990.5,320.0 984.5,325.0 980.5,328.0 978.5,327.0 982.5,323.0Z"/><path d="M-322.7,117.9 -315.2,115.3 -319.9,112.8 -319.0,110.6 -313.4,109.1 -301.2,107.2 -292.7,108.2 -283.4,109.1 -272.1,110.2 -264.6,111.5 -259.0,110.6 -249.7,109.7 -240.3,110.6 -229.0,111.5 -221.6,112.8 -210.3,112.8 -197.2,114.0 -187.8,112.8 -184.1,107.8 -176.6,111.5 -168.2,110.6 -161.6,114.3 -166.3,116.6 -169.1,116.2 -172.8,120.0 -177.9,122.2 -184.5,130.7 -182.2,133.1 -173.8,135.0 -167.2,137.3 -162.2,137.8 -158.8,144.4 -156.0,138.8 -152.2,135.0 -154.1,131.2 -153.2,127.5 -154.1,124.1 -146.6,124.7 -139.1,126.6 -138.2,130.3 -135.4,131.2 -129.7,128.8 -128.8,127.9 -124.1,133.1 -120.4,136.9 -114.8,141.6 -112.9,144.4 -114.8,146.3 -120.4,146.8 -131.6,146.8 -136.3,149.1 -129.7,149.1 -128.8,151.0 -129.7,152.8 -127.9,154.7 -122.2,155.7 -120.4,154.7 -131.6,159.4 -133.5,157.5 -139.1,159.0 -140.0,162.2 -139.1,162.8 -146.6,165.1 -146.6,166.9 -149.4,171.6 -150.4,174.8 -153.7,177.3 -159.7,181.0 -160.3,184.8 -159.7,190.4 -160.3,192.3 -162.5,193.0 -163.5,185.7 -167.2,185.1 -177.5,185.1 -189.3,185.8 -193.6,194.3 -190.4,202.0 -183.0,207.4 -178.5,205.0 -174.5,201.0 -172.1,200.0 -171.5,209.9 -167.8,211.7 -165.7,218.0 -162.5,221.9 -156.5,226.1 -152.2,226.5 -153.2,228.0 -156.0,228.0 -163.5,225.1 -172.1,216.7 -183.0,210.7 -193.6,207.7 -204.5,205.0 -207.5,200.7 -214.1,194.2 -221.6,186.6 -227.4,180.1 -230.0,177.3 -233.9,176.1 -237.5,170.7 -239.9,166.9 -240.8,162.2 -239.7,158.7 -241.6,150.2 -251.5,138.8 -271.6,132.0 -284.9,130.3 -304.7,135.4 -319.7,133.7 -314.5,131.2 -319.0,124.7 -319.0,120.0Z"/><path d="M351.8,117.9 359.3,115.3 354.6,112.8 355.5,110.6 361.1,109.1 373.3,107.2 381.8,108.2 391.1,109.1 402.4,110.2 409.9,111.5 415.5,110.6 424.8,109.7 434.2,110.6 445.5,111.5 452.9,112.8 464.2,112.8 477.3,114.0 486.7,112.8 490.4,107.8 497.9,111.5 506.3,110.6 512.9,114.3 508.2,116.6 505.4,116.2 501.7,120.0 496.6,122.2 490.0,130.7 492.3,133.1 500.7,135.0 507.3,137.3 512.3,137.8 515.7,144.4 518.5,138.8 522.3,135.0 520.4,131.2 521.3,127.5 520.4,124.1 527.9,124.7 535.4,126.6 536.3,130.3 539.1,131.2 544.8,128.8 545.7,127.9 550.4,133.1 554.1,136.9 559.7,141.6 561.6,144.4 559.7,146.3 554.1,146.8 542.9,146.8 538.2,149.1 544.8,149.1 545.7,151.0 544.8,152.8 546.6,154.7 552.3,155.7 554.1,154.7 542.9,159.4 541.0,157.5 535.4,159.0 534.5,162.2 535.4,162.8 527.9,165.1 527.9,166.9 525.1,171.6 524.1,174.8 520.8,177.3 514.8,181.0 514.2,184.8 514.8,190.4 514.2,192.3 512.0,193.0 511.0,185.7 507.3,185.1 497.0,185.1 485.2,185.8 480.9,194.3 484.1,202.0 491.5,207.4 496.0,205.0 500.0,201.0 502.4,200.0 503.0,209.9 506.7,211.7 508.8,218.0 512.0,221.9 518.0,226.1 522.3,226.5 521.3,228.0 518.5,228.0 511.0,225.1 502.4,216.7 491.5,210.7 480.9,207.7 470.0,205.0 467.0,200.7 460.4,194.2 452.9,186.6 447.1,180.1 444.5,177.3 440.6,176.1 437.0,170.7 434.6,166.9 433.7,162.2 434.8,158.7 432.9,150.2 423.0,138.8 402.9,132.0 389.6,130.3 369.8,135.4 354.8,133.7 360.0,131.2 355.5,124.7 355.5,120.0Z"/><path d="M-169.1,120.0 -158.8,121.9 -163.5,124.3 -171.0,121.9Z"/><path d="M505.4,120.0 515.7,121.9 511.0,124.3 503.5,121.9Z"/><path d="M-144.7,94.6 -139.1,96.9 -131.6,98.4 -116.6,99.3 -112.9,104.0 -111.0,109.7 -103.5,112.5 -108.2,117.2 -101.6,122.8 -98.8,126.6 -91.3,128.4 -87.6,126.6 -82.9,119.0 -73.5,116.8 -67.9,113.4 -54.8,109.7 -49.2,106.8 -49.2,103.1 -43.6,100.3 -43.6,94.6 -39.8,90.9 -31.4,88.1 -64.2,84.3 -82.9,84.3 -101.6,86.2 -120.4,87.1 -129.7,89.0 -139.1,91.8Z"/><path d="M529.8,94.6 535.4,96.9 542.9,98.4 557.9,99.3 561.6,104.0 563.5,109.7 571.0,112.5 566.3,117.2 572.9,122.8 575.7,126.6 583.2,128.4 586.9,126.6 591.6,119.0 601.0,116.8 606.6,113.4 619.7,109.7 625.3,106.8 625.3,103.1 630.9,100.3 630.9,94.6 634.7,90.9 643.1,88.1 610.3,84.3 591.6,84.3 572.9,86.2 554.1,87.1 544.8,89.0 535.4,91.8Z"/><path d="M-153.2,224.8 -150.4,223.3 -149.4,220.8 -146.6,220.1 -142.9,218.0 -141.0,220.4 -139.1,219.5 -135.4,221.4 -131.6,221.4 -127.9,221.4 -124.1,221.4 -122.2,224.2 -119.4,225.5 -114.8,229.8 -109.1,230.4 -105.4,231.9 -103.5,234.5 -101.6,238.3 -100.7,242.0 -97.9,243.0 -91.3,245.8 -84.8,246.7 -80.1,248.0 -73.9,251.4 -73.5,255.2 -74.5,258.9 -78.2,263.6 -81.0,267.4 -81.0,274.0 -83.9,281.2 -98.0,294.0 -110.7,306.7 -128.6,322.0 -136.2,332.2 -138.8,342.4 -143.9,342.4 -147.7,334.8 -145.2,322.0 -141.3,296.5 -141.3,276.1 -140.0,275.5 -143.8,273.0 -150.4,267.4 -154.1,260.8 -156.9,255.2 -160.1,251.4 -158.4,247.5 -158.8,243.0 -157.8,239.6 -155.0,237.3 -152.8,233.6 -153.0,228.9 -154.1,227.0Z"/><path d="M521.3,224.8 524.1,223.3 525.1,220.8 527.9,220.1 531.6,218.0 533.5,220.4 535.4,219.5 539.1,221.4 542.9,221.4 546.6,221.4 550.4,221.4 552.3,224.2 555.1,225.5 559.7,229.8 565.4,230.4 569.1,231.9 571.0,234.5 572.9,238.3 573.8,242.0 576.6,243.0 583.2,245.8 589.7,246.7 594.4,248.0 600.6,251.4 601.0,255.2 600.0,258.9 596.3,263.6 593.5,267.4 593.5,274.0 590.6,281.2 576.5,294.0 563.8,306.7 545.9,322.0 538.3,332.2 535.7,342.4 530.6,342.4 526.8,334.8 529.3,322.0 533.2,296.5 533.2,276.1 534.5,275.5 530.7,273.0 524.1,267.4 520.4,260.8 517.6,255.2 514.4,251.4 516.1,247.5 515.7,243.0 516.7,239.6 519.5,237.3 521.7,233.6 521.5,228.9 520.4,227.0Z"/>
</g><g fill="#fff"><path d="M44.5,163.7 44.1,160.4 47.3,156.6 49.2,153.8 53.9,154.7 54.8,157.5 58.6,156.6 60.4,156.0 63.2,152.8 66.0,152.8 63.2,154.7 62.3,157.2 67.0,159.8 70.2,163.0 65.1,164.1 59.5,162.8 53.9,162.2 50.1,163.7Z"/><path d="M719.0,163.7 718.6,160.4 721.8,156.6 723.7,153.8 728.4,154.7 729.3,157.5 733.1,156.6 734.9,156.0 737.7,152.8 740.5,152.8 737.7,154.7 736.8,157.2 741.5,159.8 744.7,163.0 739.6,164.1 734.0,162.8 728.4,162.2 724.6,163.7Z"/><path d="M11.7,138.8 18.3,139.7 26.7,138.4 31.4,136.9 32.3,134.1 27.6,132.2 25.8,130.3 23.0,133.1 19.2,135.9 15.5,135.9 12.7,136.9Z"/><path d="M686.2,138.8 692.8,139.7 701.2,138.4 705.9,136.9 706.8,134.1 702.1,132.2 700.3,130.3 697.5,133.1 693.7,135.9 690.0,135.9 687.2,136.9Z"/></g><g fill="#bebebe">
<path d="M40.0,369.8 116.0,370.0 119.0,376.0 126.0,376.0 126.0,366.4 178.0,366.4 180.0,365.5 245.0,365.5 250.0,366.0 297.0,371.0 300.0,378.0 308.0,378.0 310.0,387.0 380.0,387.0 390.0,383.0 427.6,380.0 480.0,379.0 522.9,378.0 525.0,374.0 535.0,371.0 539.5,366.4 549.0,366.4 549.0,388.0 603.8,388.0 620.0,385.0 637.0,378.0 665.7,376.0 670.0,372.6 735.0,372.6 735.0,420.0 40.0,420.0Z"/><path d="M412.0,113.0 428.0,104.0 436.0,98.0 452.0,93.0 484.0,86.0 547.0,85.0 540.0,92.0 521.0,92.0 514.0,100.0 531.0,107.0 539.0,114.0 547.0,121.0 550.0,133.0 540.0,135.0 520.0,125.0 500.0,118.0 450.0,113.0Z"/></g><g fill="#fff"><rect x="481.2" y="85.9" width="1.900000000000034" height="1.8999999999999915"/><rect x="484.9" y="85.9" width="1.900000000000034" height="1.8999999999999915"/><rect x="488.7" y="85.9" width="3.6999999999999886" height="1.8999999999999915"/><rect x="494.3" y="85.9" width="3.8000000000000114" height="1.8999999999999915"/><rect x="499.9" y="85.9" width="3.8000000000000114" height="1.8999999999999915"/><rect x="505.6" y="85.9" width="1.7999999999999545" height="1.8999999999999915"/><rect x="511.2" y="85.9" width="1.8000000000000114" height="1.8999999999999915"/><rect x="516.8" y="85.9" width="3.7000000000000455" height="1.8999999999999915"/><rect x="522.4" y="85.9" width="1.8999999999999773" height="1.8999999999999915"/><rect x="529.9" y="85.9" width="3.800000000000068" height="1.8999999999999915"/><rect x="535.5" y="85.9" width="1.8999999999999773" height="1.8999999999999915"/><rect x="539.3" y="85.9" width="7.5" height="1.8999999999999915"/><rect x="471.8" y="87.8" width="3.8000000000000114" height="1.7999999999999972"/><rect x="477.4" y="87.8" width="1.900000000000034" height="1.7999999999999972"/><rect x="486.8" y="87.8" width="3.8000000000000114" height="1.7999999999999972"/><rect x="494.3" y="87.8" width="3.8000000000000114" height="1.7999999999999972"/><rect x="514.9" y="87.8" width="1.8999999999999773" height="1.7999999999999972"/><rect x="522.4" y="87.8" width="3.800000000000068" height="1.7999999999999972"/><rect x="528.0" y="87.8" width="3.7999999999999545" height="1.7999999999999972"/><rect x="537.4" y="87.8" width="1.8999999999999773" height="1.7999999999999972"/><rect x="541.2" y="87.8" width="3.699999999999932" height="1.7999999999999972"/><rect x="462.5" y="89.6" width="1.8000000000000114" height="1.9000000000000057"/><rect x="466.2" y="89.6" width="3.8000000000000114" height="1.9000000000000057"/><rect x="475.6" y="89.6" width="3.6999999999999886" height="1.9000000000000057"/><rect x="484.9" y="89.6" width="5.7000000000000455" height="1.9000000000000057"/><rect x="492.4" y="89.6" width="3.8000000000000114" height="1.9000000000000057"/><rect x="509.3" y="89.6" width="5.599999999999966" height="1.9000000000000057"/><rect x="516.8" y="89.6" width="3.7000000000000455" height="1.9000000000000057"/><rect x="526.2" y="89.6" width="3.699999999999932" height="1.9000000000000057"/><rect x="533.7" y="89.6" width="3.699999999999932" height="1.9000000000000057"/><rect x="539.3" y="89.6" width="3.7000000000000455" height="1.9000000000000057"/><rect x="455.0" y="91.5" width="1.8000000000000114" height="1.9000000000000057"/><rect x="458.7" y="91.5" width="1.900000000000034" height="1.9000000000000057"/><rect x="462.5" y="91.5" width="1.8000000000000114" height="1.9000000000000057"/><rect x="471.8" y="91.5" width="3.8000000000000114" height="1.9000000000000057"/><rect x="484.9" y="91.5" width="3.8000000000000114" height="1.9000000000000057"/><rect x="494.3" y="91.5" width="1.8999999999999773" height="1.9000000000000057"/><rect x="498.1" y="91.5" width="1.7999999999999545" height="1.9000000000000057"/><rect x="501.8" y="91.5" width="5.599999999999966" height="1.9000000000000057"/><rect x="509.3" y="91.5" width="3.6999999999999886" height="1.9000000000000057"/><rect x="516.8" y="91.5" width="1.900000000000091" height="1.9000000000000057"/><rect x="447.5" y="93.4" width="3.6999999999999886" height="1.8999999999999915"/><rect x="456.8" y="93.4" width="1.8999999999999773" height="1.8999999999999915"/><rect x="468.1" y="93.4" width="7.5" height="1.8999999999999915"/><rect x="486.8" y="93.4" width="5.599999999999966" height="1.8999999999999915"/><rect x="496.2" y="93.4" width="1.900000000000034" height="1.8999999999999915"/><rect x="501.8" y="93.4" width="3.8000000000000114" height="1.8999999999999915"/><rect x="507.4" y="93.4" width="1.900000000000034" height="1.8999999999999915"/><rect x="441.9" y="95.3" width="1.8000000000000114" height="1.7999999999999972"/><rect x="447.5" y="95.3" width="1.8000000000000114" height="1.7999999999999972"/><rect x="456.8" y="95.3" width="3.8000000000000114" height="1.7999999999999972"/><rect x="468.1" y="95.3" width="1.8999999999999773" height="1.7999999999999972"/><rect x="481.2" y="95.3" width="3.6999999999999886" height="1.7999999999999972"/><rect x="494.3" y="95.3" width="5.599999999999966" height="1.7999999999999972"/><rect x="505.6" y="95.3" width="1.7999999999999545" height="1.7999999999999972"/><rect x="513.0" y="95.3" width="3.7999999999999545" height="1.7999999999999972"/><rect x="440.0" y="97.1" width="7.5" height="1.9000000000000057"/><rect x="453.1" y="97.1" width="1.8999999999999773" height="1.9000000000000057"/><rect x="460.6" y="97.1" width="3.6999999999999886" height="1.9000000000000057"/><rect x="475.6" y="97.1" width="3.6999999999999886" height="1.9000000000000057"/><rect x="492.4" y="97.1" width="1.900000000000034" height="1.9000000000000057"/><rect x="505.6" y="97.1" width="5.599999999999966" height="1.9000000000000057"/><rect x="438.1" y="99.0" width="3.7999999999999545" height="1.9000000000000057"/><rect x="449.3" y="99.0" width="7.5" height="1.9000000000000057"/><rect x="460.6" y="99.0" width="5.599999999999966" height="1.9000000000000057"/><rect x="475.6" y="99.0" width="1.7999999999999545" height="1.9000000000000057"/><rect x="479.3" y="99.0" width="3.8000000000000114" height="1.9000000000000057"/><rect x="488.7" y="99.0" width="7.5" height="1.9000000000000057"/><rect x="503.7" y="99.0" width="3.6999999999999886" height="1.9000000000000057"/><rect x="509.3" y="99.0" width="1.8999999999999773" height="1.9000000000000057"/><rect x="432.5" y="100.9" width="5.600000000000023" height="1.8999999999999915"/><rect x="447.5" y="100.9" width="1.8000000000000114" height="1.8999999999999915"/><rect x="451.2" y="100.9" width="3.8000000000000114" height="1.8999999999999915"/><rect x="456.8" y="100.9" width="3.8000000000000114" height="1.8999999999999915"/><rect x="468.1" y="100.9" width="5.599999999999966" height="1.8999999999999915"/><rect x="492.4" y="100.9" width="3.8000000000000114" height="1.8999999999999915"/><rect x="503.7" y="100.9" width="1.900000000000034" height="1.8999999999999915"/><rect x="430.6" y="102.8" width="3.7999999999999545" height="1.9000000000000057"/><rect x="436.2" y="102.8" width="1.900000000000034" height="1.9000000000000057"/><rect x="473.7" y="102.8" width="3.6999999999999886" height="1.9000000000000057"/><rect x="481.2" y="102.8" width="3.6999999999999886" height="1.9000000000000057"/><rect x="486.8" y="102.8" width="1.8999999999999773" height="1.9000000000000057"/><rect x="498.1" y="102.8" width="1.7999999999999545" height="1.9000000000000057"/><rect x="505.6" y="102.8" width="5.599999999999966" height="1.9000000000000057"/><rect x="516.8" y="102.8" width="1.900000000000091" height="1.9000000000000057"/><rect x="425.0" y="104.7" width="1.8999999999999773" height="1.7999999999999972"/><rect x="436.2" y="104.7" width="3.8000000000000114" height="1.7999999999999972"/><rect x="449.3" y="104.7" width="1.8999999999999773" height="1.7999999999999972"/><rect x="453.1" y="104.7" width="3.6999999999999886" height="1.7999999999999972"/><rect x="470.0" y="104.7" width="7.399999999999977" height="1.7999999999999972"/><rect x="479.3" y="104.7" width="1.8999999999999773" height="1.7999999999999972"/><rect x="483.1" y="104.7" width="1.7999999999999545" height="1.7999999999999972"/><rect x="486.8" y="104.7" width="7.5" height="1.7999999999999972"/><rect x="496.2" y="104.7" width="7.5" height="1.7999999999999972"/><rect x="505.6" y="104.7" width="3.6999999999999886" height="1.7999999999999972"/><rect x="423.1" y="106.5" width="1.8999999999999773" height="1.9000000000000057"/><rect x="428.7" y="106.5" width="1.900000000000034" height="1.9000000000000057"/><rect x="434.4" y="106.5" width="7.5" height="1.9000000000000057"/><rect x="443.7" y="106.5" width="1.900000000000034" height="1.9000000000000057"/><rect x="458.7" y="106.5" width="3.8000000000000114" height="1.9000000000000057"/><rect x="471.8" y="106.5" width="1.8999999999999773" height="1.9000000000000057"/><rect x="479.3" y="106.5" width="3.8000000000000114" height="1.9000000000000057"/><rect x="486.8" y="106.5" width="1.8999999999999773" height="1.9000000000000057"/><rect x="494.3" y="106.5" width="1.8999999999999773" height="1.9000000000000057"/><rect x="501.8" y="106.5" width="3.8000000000000114" height="1.9000000000000057"/><rect x="524.3" y="106.5" width="1.900000000000091" height="1.9000000000000057"/><rect x="426.9" y="108.4" width="1.8000000000000114" height="1.8999999999999915"/><rect x="430.6" y="108.4" width="5.599999999999966" height="1.8999999999999915"/><rect x="441.9" y="108.4" width="1.8000000000000114" height="1.8999999999999915"/><rect x="456.8" y="108.4" width="1.8999999999999773" height="1.8999999999999915"/><rect x="460.6" y="108.4" width="3.6999999999999886" height="1.8999999999999915"/><rect x="466.2" y="108.4" width="1.900000000000034" height="1.8999999999999915"/><rect x="483.1" y="108.4" width="3.6999999999999886" height="1.8999999999999915"/><rect x="488.7" y="108.4" width="1.900000000000034" height="1.8999999999999915"/><rect x="494.3" y="108.4" width="3.8000000000000114" height="1.8999999999999915"/><rect x="501.8" y="108.4" width="7.5" height="1.8999999999999915"/><rect x="511.2" y="108.4" width="3.6999999999999886" height="1.8999999999999915"/><rect x="524.3" y="108.4" width="3.7000000000000455" height="1.8999999999999915"/><rect x="531.8" y="108.4" width="5.600000000000023" height="1.8999999999999915"/><rect x="428.7" y="110.3" width="7.5" height="1.9000000000000057"/><rect x="447.5" y="110.3" width="3.6999999999999886" height="1.9000000000000057"/><rect x="458.7" y="110.3" width="5.600000000000023" height="1.9000000000000057"/><rect x="475.6" y="110.3" width="1.7999999999999545" height="1.9000000000000057"/><rect x="486.8" y="110.3" width="1.8999999999999773" height="1.9000000000000057"/><rect x="496.2" y="110.3" width="7.5" height="1.9000000000000057"/><rect x="505.6" y="110.3" width="3.6999999999999886" height="1.9000000000000057"/><rect x="513.0" y="110.3" width="3.7999999999999545" height="1.9000000000000057"/><rect x="518.7" y="110.3" width="5.599999999999909" height="1.9000000000000057"/></g>
</g>
<line x1="48.25" y1="72.10" x2="48.25" y2="60.10" stroke="#000" stroke-width="1.6"/><line x1="48.25" y1="410.10" x2="48.25" y2="422.10" stroke="#000" stroke-width="1.6"/><line x1="66.99" y1="72.10" x2="66.99" y2="66.10" stroke="#000" stroke-width="1.1"/><line x1="66.99" y1="410.10" x2="66.99" y2="416.10" stroke="#000" stroke-width="1.1"/><line x1="85.72" y1="72.10" x2="85.72" y2="66.10" stroke="#000" stroke-width="1.1"/><line x1="85.72" y1="410.10" x2="85.72" y2="416.10" stroke="#000" stroke-width="1.1"/><line x1="104.46" y1="72.10" x2="104.46" y2="60.10" stroke="#000" stroke-width="1.6"/><line x1="104.46" y1="410.10" x2="104.46" y2="422.10" stroke="#000" stroke-width="1.6"/><line x1="123.19" y1="72.10" x2="123.19" y2="66.10" stroke="#000" stroke-width="1.1"/><line x1="123.19" y1="410.10" x2="123.19" y2="416.10" stroke="#000" stroke-width="1.1"/><line x1="141.93" y1="72.10" x2="141.93" y2="66.10" stroke="#000" stroke-width="1.1"/><line x1="141.93" y1="410.10" x2="141.93" y2="416.10" stroke="#000" stroke-width="1.1"/><line x1="160.67" y1="72.10" x2="160.67" y2="60.10" stroke="#000" stroke-width="1.6"/><line x1="160.67" y1="410.10" x2="160.67" y2="422.10" stroke="#000" stroke-width="1.6"/><line x1="179.40" y1="72.10" x2="179.40" y2="66.10" stroke="#000" stroke-width="1.1"/><line x1="179.40" y1="410.10" x2="179.40" y2="416.10" stroke="#000" stroke-width="1.1"/><line x1="198.14" y1="72.10" x2="198.14" y2="66.10" stroke="#000" stroke-width="1.1"/><line x1="198.14" y1="410.10" x2="198.14" y2="416.10" stroke="#000" stroke-width="1.1"/><line x1="216.88" y1="72.10" x2="216.88" y2="60.10" stroke="#000" stroke-width="1.6"/><line x1="216.88" y1="410.10" x2="216.88" y2="422.10" stroke="#000" stroke-width="1.6"/><line x1="235.61" y1="72.10" x2="235.61" y2="66.10" stroke="#000" stroke-width="1.1"/><line x1="235.61" y1="410.10" x2="235.61" y2="416.10" stroke="#000" stroke-width="1.1"/><line x1="254.35" y1="72.10" x2="254.35" y2="66.10" stroke="#000" stroke-width="1.1"/><line x1="254.35" y1="410.10" x2="254.35" y2="416.10" stroke="#000" stroke-width="1.1"/><line x1="273.08" y1="72.10" x2="273.08" y2="60.10" stroke="#000" stroke-width="1.6"/><line x1="273.08" y1="410.10" x2="273.08" y2="422.10" stroke="#000" stroke-width="1.6"/><line x1="291.82" y1="72.10" x2="291.82" y2="66.10" stroke="#000" stroke-width="1.1"/><line x1="291.82" y1="410.10" x2="291.82" y2="416.10" stroke="#000" stroke-width="1.1"/><line x1="310.56" y1="72.10" x2="310.56" y2="66.10" stroke="#000" stroke-width="1.1"/><line x1="310.56" y1="410.10" x2="310.56" y2="416.10" stroke="#000" stroke-width="1.1"/><line x1="329.29" y1="72.10" x2="329.29" y2="60.10" stroke="#000" stroke-width="1.6"/><line x1="329.29" y1="410.10" x2="329.29" y2="422.10" stroke="#000" stroke-width="1.6"/><line x1="348.03" y1="72.10" x2="348.03" y2="66.10" stroke="#000" stroke-width="1.1"/><line x1="348.03" y1="410.10" x2="348.03" y2="416.10" stroke="#000" stroke-width="1.1"/><line x1="366.76" y1="72.10" x2="366.76" y2="66.10" stroke="#000" stroke-width="1.1"/><line x1="366.76" y1="410.10" x2="366.76" y2="416.10" stroke="#000" stroke-width="1.1"/><line x1="385.50" y1="72.10" x2="385.50" y2="60.10" stroke="#000" stroke-width="1.6"/><line x1="385.50" y1="410.10" x2="385.50" y2="422.10" stroke="#000" stroke-width="1.6"/><line x1="404.24" y1="72.10" x2="404.24" y2="66.10" stroke="#000" stroke-width="1.1"/><line x1="404.24" y1="410.10" x2="404.24" y2="416.10" stroke="#000" stroke-width="1.1"/><line x1="422.97" y1="72.10" x2="422.97" y2="66.10" stroke="#000" stroke-width="1.1"/><line x1="422.97" y1="410.10" x2="422.97" y2="416.10" stroke="#000" stroke-width="1.1"/><line x1="441.71" y1="72.10" x2="441.71" y2="60.10" stroke="#000" stroke-width="1.6"/><line x1="441.71" y1="410.10" x2="441.71" y2="422.10" stroke="#000" stroke-width="1.6"/><line x1="460.44" y1="72.10" x2="460.44" y2="66.10" stroke="#000" stroke-width="1.1"/><line x1="460.44" y1="410.10" x2="460.44" y2="416.10" stroke="#000" stroke-width="1.1"/><line x1="479.18" y1="72.10" x2="479.18" y2="66.10" stroke="#000" stroke-width="1.1"/><line x1="479.18" y1="410.10" x2="479.18" y2="416.10" stroke="#000" stroke-width="1.1"/><line x1="497.92" y1="72.10" x2="497.92" y2="60.10" stroke="#000" stroke-width="1.6"/><line x1="497.92" y1="410.10" x2="497.92" y2="422.10" stroke="#000" stroke-width="1.6"/><line x1="516.65" y1="72.10" x2="516.65" y2="66.10" stroke="#000" stroke-width="1.1"/><line x1="516.65" y1="410.10" x2="516.65" y2="416.10" stroke="#000" stroke-width="1.1"/><line x1="535.39" y1="72.10" x2="535.39" y2="66.10" stroke="#000" stroke-width="1.1"/><line x1="535.39" y1="410.10" x2="535.39" y2="416.10" stroke="#000" stroke-width="1.1"/><line x1="554.12" y1="72.10" x2="554.12" y2="60.10" stroke="#000" stroke-width="1.6"/><line x1="554.12" y1="410.10" x2="554.12" y2="422.10" stroke="#000" stroke-width="1.6"/><line x1="572.86" y1="72.10" x2="572.86" y2="66.10" stroke="#000" stroke-width="1.1"/><line x1="572.86" y1="410.10" x2="572.86" y2="416.10" stroke="#000" stroke-width="1.1"/><line x1="591.60" y1="72.10" x2="591.60" y2="66.10" stroke="#000" stroke-width="1.1"/><line x1="591.60" y1="410.10" x2="591.60" y2="416.10" stroke="#000" stroke-width="1.1"/><line x1="610.33" y1="72.10" x2="610.33" y2="60.10" stroke="#000" stroke-width="1.6"/><line x1="610.33" y1="410.10" x2="610.33" y2="422.10" stroke="#000" stroke-width="1.6"/><line x1="629.07" y1="72.10" x2="629.07" y2="66.10" stroke="#000" stroke-width="1.1"/><line x1="629.07" y1="410.10" x2="629.07" y2="416.10" stroke="#000" stroke-width="1.1"/><line x1="647.81" y1="72.10" x2="647.81" y2="66.10" stroke="#000" stroke-width="1.1"/><line x1="647.81" y1="410.10" x2="647.81" y2="416.10" stroke="#000" stroke-width="1.1"/><line x1="666.54" y1="72.10" x2="666.54" y2="60.10" stroke="#000" stroke-width="1.6"/><line x1="666.54" y1="410.10" x2="666.54" y2="422.10" stroke="#000" stroke-width="1.6"/><line x1="685.28" y1="72.10" x2="685.28" y2="66.10" stroke="#000" stroke-width="1.1"/><line x1="685.28" y1="410.10" x2="685.28" y2="416.10" stroke="#000" stroke-width="1.1"/><line x1="704.01" y1="72.10" x2="704.01" y2="66.10" stroke="#000" stroke-width="1.1"/><line x1="704.01" y1="410.10" x2="704.01" y2="416.10" stroke="#000" stroke-width="1.1"/><line x1="722.75" y1="72.10" x2="722.75" y2="60.10" stroke="#000" stroke-width="1.6"/><line x1="722.75" y1="410.10" x2="722.75" y2="422.10" stroke="#000" stroke-width="1.6"/><line x1="48.25" y1="72.10" x2="36.25" y2="72.10" stroke="#000" stroke-width="1.6"/><line x1="722.75" y1="72.10" x2="734.75" y2="72.10" stroke="#000" stroke-width="1.6"/><line x1="48.25" y1="90.88" x2="42.25" y2="90.88" stroke="#000" stroke-width="1.1"/><line x1="722.75" y1="90.88" x2="728.75" y2="90.88" stroke="#000" stroke-width="1.1"/><line x1="48.25" y1="109.66" x2="42.25" y2="109.66" stroke="#000" stroke-width="1.1"/><line x1="722.75" y1="109.66" x2="728.75" y2="109.66" stroke="#000" stroke-width="1.1"/><line x1="48.25" y1="128.43" x2="36.25" y2="128.43" stroke="#000" stroke-width="1.6"/><line x1="722.75" y1="128.43" x2="734.75" y2="128.43" stroke="#000" stroke-width="1.6"/><line x1="48.25" y1="147.21" x2="42.25" y2="147.21" stroke="#000" stroke-width="1.1"/><line x1="722.75" y1="147.21" x2="728.75" y2="147.21" stroke="#000" stroke-width="1.1"/><line x1="48.25" y1="165.99" x2="42.25" y2="165.99" stroke="#000" stroke-width="1.1"/><line x1="722.75" y1="165.99" x2="728.75" y2="165.99" stroke="#000" stroke-width="1.1"/><line x1="48.25" y1="184.77" x2="36.25" y2="184.77" stroke="#000" stroke-width="1.6"/><line x1="722.75" y1="184.77" x2="734.75" y2="184.77" stroke="#000" stroke-width="1.6"/><line x1="48.25" y1="203.54" x2="42.25" y2="203.54" stroke="#000" stroke-width="1.1"/><line x1="722.75" y1="203.54" x2="728.75" y2="203.54" stroke="#000" stroke-width="1.1"/><line x1="48.25" y1="222.32" x2="42.25" y2="222.32" stroke="#000" stroke-width="1.1"/><line x1="722.75" y1="222.32" x2="728.75" y2="222.32" stroke="#000" stroke-width="1.1"/><line x1="48.25" y1="241.10" x2="36.25" y2="241.10" stroke="#000" stroke-width="1.6"/><line x1="722.75" y1="241.10" x2="734.75" y2="241.10" stroke="#000" stroke-width="1.6"/><line x1="48.25" y1="259.88" x2="42.25" y2="259.88" stroke="#000" stroke-width="1.1"/><line x1="722.75" y1="259.88" x2="728.75" y2="259.88" stroke="#000" stroke-width="1.1"/><line x1="48.25" y1="278.66" x2="42.25" y2="278.66" stroke="#000" stroke-width="1.1"/><line x1="722.75" y1="278.66" x2="728.75" y2="278.66" stroke="#000" stroke-width="1.1"/><line x1="48.25" y1="297.43" x2="36.25" y2="297.43" stroke="#000" stroke-width="1.6"/><line x1="722.75" y1="297.43" x2="734.75" y2="297.43" stroke="#000" stroke-width="1.6"/><line x1="48.25" y1="316.21" x2="42.25" y2="316.21" stroke="#000" stroke-width="1.1"/><line x1="722.75" y1="316.21" x2="728.75" y2="316.21" stroke="#000" stroke-width="1.1"/><line x1="48.25" y1="334.99" x2="42.25" y2="334.99" stroke="#000" stroke-width="1.1"/><line x1="722.75" y1="334.99" x2="728.75" y2="334.99" stroke="#000" stroke-width="1.1"/><line x1="48.25" y1="353.77" x2="36.25" y2="353.77" stroke="#000" stroke-width="1.6"/><line x1="722.75" y1="353.77" x2="734.75" y2="353.77" stroke="#000" stroke-width="1.6"/><line x1="48.25" y1="372.54" x2="42.25" y2="372.54" stroke="#000" stroke-width="1.1"/><line x1="722.75" y1="372.54" x2="728.75" y2="372.54" stroke="#000" stroke-width="1.1"/><line x1="48.25" y1="391.32" x2="42.25" y2="391.32" stroke="#000" stroke-width="1.1"/><line x1="722.75" y1="391.32" x2="728.75" y2="391.32" stroke="#000" stroke-width="1.1"/><line x1="48.25" y1="410.10" x2="36.25" y2="410.10" stroke="#000" stroke-width="1.6"/><line x1="722.75" y1="410.10" x2="734.75" y2="410.10" stroke="#000" stroke-width="1.6"/>
<rect x="48.25" y="72.1" width="674.5" height="338.0" fill="none" stroke="#000" stroke-width="3.6"/>
<text transform="translate(25.8 77.7) scale(1 1.07)" text-anchor="end" class="tk">90N</text><text transform="translate(25.8 134.0) scale(1 1.07)" text-anchor="end" class="tk">60N</text><text transform="translate(25.8 190.4) scale(1 1.07)" text-anchor="end" class="tk">30N</text><text transform="translate(25.8 246.7) scale(1 1.07)" text-anchor="end" class="tk">0</text><text transform="translate(25.8 303.0) scale(1 1.07)" text-anchor="end" class="tk">30S</text><text transform="translate(25.8 359.4) scale(1 1.07)" text-anchor="end" class="tk">60S</text><text transform="translate(25.8 415.7) scale(1 1.07)" text-anchor="end" class="tk">90S</text><text transform="translate(48.2 444.4) scale(1 1.07)" text-anchor="middle" class="tk">30E</text><text transform="translate(104.5 444.4) scale(1 1.07)" text-anchor="middle" class="tk">60E</text><text transform="translate(160.7 444.4) scale(1 1.07)" text-anchor="middle" class="tk">90E</text><text transform="translate(216.9 444.4) scale(1 1.07)" text-anchor="middle" class="tk">120E</text><text transform="translate(273.1 444.4) scale(1 1.07)" text-anchor="middle" class="tk">150E</text><text transform="translate(329.3 444.4) scale(1 1.07)" text-anchor="middle" class="tk">180</text><text transform="translate(385.5 444.4) scale(1 1.07)" text-anchor="middle" class="tk">150W</text><text transform="translate(441.7 444.4) scale(1 1.07)" text-anchor="middle" class="tk">120W</text><text transform="translate(497.9 444.4) scale(1 1.07)" text-anchor="middle" class="tk">90W</text><text transform="translate(554.1 444.4) scale(1 1.07)" text-anchor="middle" class="tk">60W</text><text transform="translate(610.3 444.4) scale(1 1.07)" text-anchor="middle" class="tk">30W</text><text transform="translate(666.5 444.4) scale(1 1.07)" text-anchor="middle" class="tk">0</text><text transform="translate(722.8 444.4) scale(1 1.07)" text-anchor="middle" class="tk">30E</text>
<text x="216" y="18.4" class="ttl">ocean heat between 0-700 m</text>
<text x="47.6" y="50.8" class="sub">year=(1958:1958); mon=(missing:missing)</text>
<text x="724.6" y="50.8" text-anchor="end" class="sub">range (-0.3 : 0.3) 1e20 Joule</text>
<rect x="81.75" y="453.2" width="18.98" height="30.05" fill="#1c2a5e"/><rect x="100.73" y="453.2" width="18.98" height="30.05" fill="#1f3b7b"/><rect x="119.71" y="453.2" width="18.98" height="30.05" fill="#234b93"/><rect x="138.69" y="453.2" width="18.98" height="30.05" fill="#2a5ba9"/><rect x="157.67" y="453.2" width="18.98" height="30.05" fill="#3574b7"/><rect x="176.65" y="453.2" width="18.98" height="30.05" fill="#438ac8"/><rect x="195.63" y="453.2" width="18.98" height="30.05" fill="#5aa7d8"/><rect x="214.61" y="453.2" width="18.98" height="30.05" fill="#72bbe5"/><rect x="233.59" y="453.2" width="18.98" height="30.05" fill="#8ecdf0"/><rect x="252.57" y="453.2" width="18.98" height="30.05" fill="#a5dcf5"/><rect x="271.55" y="453.2" width="18.98" height="30.05" fill="#b6e3f7"/><rect x="290.53" y="453.2" width="18.98" height="30.05" fill="#cdebf7"/><rect x="309.51" y="453.2" width="18.98" height="30.05" fill="#dff0f8"/><rect x="328.49" y="453.2" width="18.98" height="30.05" fill="#ebf6fb"/><rect x="347.47" y="453.2" width="18.98" height="30.05" fill="#f6fbfd"/><rect x="366.45" y="453.2" width="18.98" height="30.05" fill="#ffffff"/><rect x="385.43" y="453.2" width="18.98" height="30.05" fill="#ffffff"/><rect x="404.41" y="453.2" width="18.98" height="30.05" fill="#ffffff"/><rect x="423.39" y="453.2" width="18.98" height="30.05" fill="#fff7e0"/><rect x="442.37" y="453.2" width="18.98" height="30.05" fill="#fdefb5"/><rect x="461.35" y="453.2" width="18.98" height="30.05" fill="#fbe59a"/><rect x="480.33" y="453.2" width="18.98" height="30.05" fill="#fad375"/><rect x="499.31" y="453.2" width="18.98" height="30.05" fill="#f9bd53"/><rect x="518.29" y="453.2" width="18.98" height="30.05" fill="#f8a837"/><rect x="537.27" y="453.2" width="18.98" height="30.05" fill="#f7922f"/><rect x="556.25" y="453.2" width="18.98" height="30.05" fill="#f47b2b"/><rect x="575.23" y="453.2" width="18.98" height="30.05" fill="#ee6329"/><rect x="594.21" y="453.2" width="18.98" height="30.05" fill="#e54b2a"/><rect x="613.19" y="453.2" width="18.98" height="30.05" fill="#da332b"/><rect x="632.17" y="453.2" width="18.98" height="30.05" fill="#c42027"/><rect x="651.15" y="453.2" width="18.98" height="30.05" fill="#b21e23"/><rect x="670.13" y="453.2" width="18.98" height="30.05" fill="#9a1a1c"/><line x1="100.73" y1="453.2" x2="100.73" y2="483.25" stroke="#000" stroke-width="1"/><line x1="101.73" y1="453.2" x2="101.73" y2="483.25" stroke="#9a9a9a" stroke-width="0.9"/><line x1="119.71" y1="453.2" x2="119.71" y2="483.25" stroke="#000" stroke-width="1"/><line x1="120.71" y1="453.2" x2="120.71" y2="483.25" stroke="#9a9a9a" stroke-width="0.9"/><line x1="138.69" y1="453.2" x2="138.69" y2="483.25" stroke="#000" stroke-width="1"/><line x1="139.69" y1="453.2" x2="139.69" y2="483.25" stroke="#9a9a9a" stroke-width="0.9"/><line x1="157.67" y1="453.2" x2="157.67" y2="483.25" stroke="#000" stroke-width="1"/><line x1="158.67" y1="453.2" x2="158.67" y2="483.25" stroke="#9a9a9a" stroke-width="0.9"/><line x1="176.65" y1="453.2" x2="176.65" y2="483.25" stroke="#000" stroke-width="1"/><line x1="177.65" y1="453.2" x2="177.65" y2="483.25" stroke="#9a9a9a" stroke-width="0.9"/><line x1="195.63" y1="453.2" x2="195.63" y2="483.25" stroke="#000" stroke-width="1"/><line x1="196.63" y1="453.2" x2="196.63" y2="483.25" stroke="#9a9a9a" stroke-width="0.9"/><line x1="214.61" y1="453.2" x2="214.61" y2="483.25" stroke="#000" stroke-width="1"/><line x1="215.61" y1="453.2" x2="215.61" y2="483.25" stroke="#9a9a9a" stroke-width="0.9"/><line x1="233.59" y1="453.2" x2="233.59" y2="483.25" stroke="#000" stroke-width="1"/><line x1="234.59" y1="453.2" x2="234.59" y2="483.25" stroke="#9a9a9a" stroke-width="0.9"/><line x1="252.57" y1="453.2" x2="252.57" y2="483.25" stroke="#000" stroke-width="1"/><line x1="253.57" y1="453.2" x2="253.57" y2="483.25" stroke="#9a9a9a" stroke-width="0.9"/><line x1="271.55" y1="453.2" x2="271.55" y2="483.25" stroke="#000" stroke-width="1"/><line x1="272.55" y1="453.2" x2="272.55" y2="483.25" stroke="#9a9a9a" stroke-width="0.9"/><line x1="290.53" y1="453.2" x2="290.53" y2="483.25" stroke="#000" stroke-width="1"/><line x1="291.53" y1="453.2" x2="291.53" y2="483.25" stroke="#9a9a9a" stroke-width="0.9"/><line x1="309.51" y1="453.2" x2="309.51" y2="483.25" stroke="#000" stroke-width="1"/><line x1="310.51" y1="453.2" x2="310.51" y2="483.25" stroke="#9a9a9a" stroke-width="0.9"/><line x1="328.49" y1="453.2" x2="328.49" y2="483.25" stroke="#000" stroke-width="1"/><line x1="329.49" y1="453.2" x2="329.49" y2="483.25" stroke="#9a9a9a" stroke-width="0.9"/><line x1="347.47" y1="453.2" x2="347.47" y2="483.25" stroke="#000" stroke-width="1"/><line x1="348.47" y1="453.2" x2="348.47" y2="483.25" stroke="#9a9a9a" stroke-width="0.9"/><line x1="366.45" y1="453.2" x2="366.45" y2="483.25" stroke="#000" stroke-width="1"/><line x1="367.45" y1="453.2" x2="367.45" y2="483.25" stroke="#9a9a9a" stroke-width="0.9"/><line x1="385.43" y1="453.2" x2="385.43" y2="483.25" stroke="#000" stroke-width="1"/><line x1="386.43" y1="453.2" x2="386.43" y2="483.25" stroke="#9a9a9a" stroke-width="0.9"/><line x1="404.41" y1="453.2" x2="404.41" y2="483.25" stroke="#000" stroke-width="1"/><line x1="405.41" y1="453.2" x2="405.41" y2="483.25" stroke="#9a9a9a" stroke-width="0.9"/><line x1="423.39" y1="453.2" x2="423.39" y2="483.25" stroke="#000" stroke-width="1"/><line x1="424.39" y1="453.2" x2="424.39" y2="483.25" stroke="#9a9a9a" stroke-width="0.9"/><line x1="442.37" y1="453.2" x2="442.37" y2="483.25" stroke="#000" stroke-width="1"/><line x1="443.37" y1="453.2" x2="443.37" y2="483.25" stroke="#9a9a9a" stroke-width="0.9"/><line x1="461.35" y1="453.2" x2="461.35" y2="483.25" stroke="#000" stroke-width="1"/><line x1="462.35" y1="453.2" x2="462.35" y2="483.25" stroke="#9a9a9a" stroke-width="0.9"/><line x1="480.33" y1="453.2" x2="480.33" y2="483.25" stroke="#000" stroke-width="1"/><line x1="481.33" y1="453.2" x2="481.33" y2="483.25" stroke="#9a9a9a" stroke-width="0.9"/><line x1="499.31" y1="453.2" x2="499.31" y2="483.25" stroke="#000" stroke-width="1"/><line x1="500.31" y1="453.2" x2="500.31" y2="483.25" stroke="#9a9a9a" stroke-width="0.9"/><line x1="518.29" y1="453.2" x2="518.29" y2="483.25" stroke="#000" stroke-width="1"/><line x1="519.29" y1="453.2" x2="519.29" y2="483.25" stroke="#9a9a9a" stroke-width="0.9"/><line x1="537.27" y1="453.2" x2="537.27" y2="483.25" stroke="#000" stroke-width="1"/><line x1="538.27" y1="453.2" x2="538.27" y2="483.25" stroke="#9a9a9a" stroke-width="0.9"/><line x1="556.25" y1="453.2" x2="556.25" y2="483.25" stroke="#000" stroke-width="1"/><line x1="557.25" y1="453.2" x2="557.25" y2="483.25" stroke="#9a9a9a" stroke-width="0.9"/><line x1="575.23" y1="453.2" x2="575.23" y2="483.25" stroke="#000" stroke-width="1"/><line x1="576.23" y1="453.2" x2="576.23" y2="483.25" stroke="#9a9a9a" stroke-width="0.9"/><line x1="594.21" y1="453.2" x2="594.21" y2="483.25" stroke="#000" stroke-width="1"/><line x1="595.21" y1="453.2" x2="595.21" y2="483.25" stroke="#9a9a9a" stroke-width="0.9"/><line x1="613.19" y1="453.2" x2="613.19" y2="483.25" stroke="#000" stroke-width="1"/><line x1="614.19" y1="453.2" x2="614.19" y2="483.25" stroke="#9a9a9a" stroke-width="0.9"/><line x1="632.17" y1="453.2" x2="632.17" y2="483.25" stroke="#000" stroke-width="1"/><line x1="633.17" y1="453.2" x2="633.17" y2="483.25" stroke="#9a9a9a" stroke-width="0.9"/><line x1="651.15" y1="453.2" x2="651.15" y2="483.25" stroke="#000" stroke-width="1"/><line x1="652.15" y1="453.2" x2="652.15" y2="483.25" stroke="#9a9a9a" stroke-width="0.9"/><line x1="670.13" y1="453.2" x2="670.13" y2="483.25" stroke="#000" stroke-width="1"/><line x1="671.13" y1="453.2" x2="671.13" y2="483.25" stroke="#9a9a9a" stroke-width="0.9"/><rect x="81.75" y="453.2" width="607.36" height="30.05" fill="none" stroke="#000" stroke-width="1.1"/><line x1="82.75" y1="453.2" x2="82.75" y2="483.25" stroke="#9a9a9a" stroke-width="0.9"/><text transform="translate(157.7 508.7) scale(1 1.08)" text-anchor="middle" class="cbl">-0.24</text><text transform="translate(233.6 508.7) scale(1 1.08)" text-anchor="middle" class="cbl">-0.16</text><text transform="translate(309.5 508.7) scale(1 1.08)" text-anchor="middle" class="cbl">-0.08</text><text transform="translate(385.4 508.7) scale(1 1.08)" text-anchor="middle" class="cbl">0</text><text transform="translate(461.4 508.7) scale(1 1.08)" text-anchor="middle" class="cbl">0.08</text><text transform="translate(537.3 508.7) scale(1 1.08)" text-anchor="middle" class="cbl">0.16</text><text transform="translate(613.2 508.7) scale(1 1.08)" text-anchor="middle" class="cbl">0.24</text>
</svg>
</body></html>
